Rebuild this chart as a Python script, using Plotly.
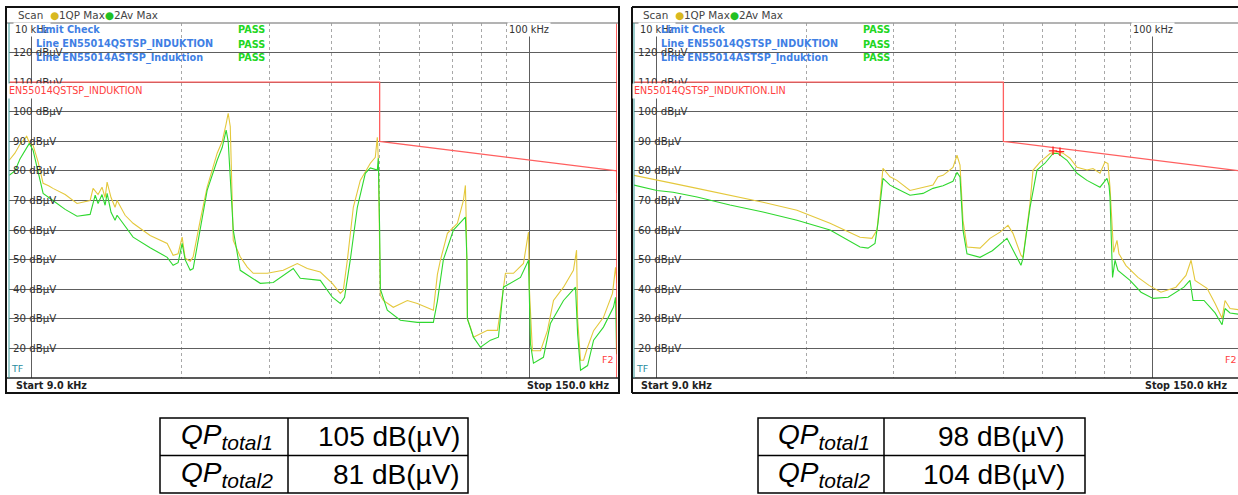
import math
import plotly.graph_objects as go

W, H = 1238, 495

# ---------------- data (kHz, dBµV) ----------------
left_qp = [(9.0, 83.6), (9.24, 86), (9.46, 89), (9.76, 91.7), (9.88, 89.5), (10.05, 88.7), (10.29, 83),
           (10.53, 75.8), (10.8, 75), (11.02, 74.1), (11.66, 72), (12.32, 69), (12.7, 69.5), (13.09, 70),
           (13.27, 74.1), (13.58, 72), (13.83, 74.5), (14.03, 71), (14.16, 76.2), (14.42, 71), (14.69, 67.7),
           (14.83, 70), (15.39, 65), (15.97, 62.3), (17.28, 58.2), (18.70, 55.5), (19.22, 51.5), (19.67, 52),
           (20.04, 57.6), (20.32, 50.5), (20.8, 49.5), (21.09, 51), (21.79, 63.3), (22.50, 74.5), (23.57, 86),
           (24.13, 90), (24.57, 96), (24.80, 99.5), (25.04, 95), (25.39, 56.5), (26.22, 51), (27.09, 47.5),
           (27.85, 45.4), (29.72, 45.4), (32.0, 46.4), (34.15, 48.7), (35.76, 47), (37.99, 45.8), (40.16, 42),
           (41.67, 38.6), (42.25, 39.6), (43.05, 49.8), (44.26, 67.7), (45.71, 76.8), (47.89, 82.6), (49.0, 84.6),
           (49.46, 91.4), (49.69, 84), (50.16, 38), (50.86, 36.2), (53.26, 33.9), (56.84, 36.2), (59.53, 35.2),
           (62.35, 33.9), (64.11, 32.9), (65.32, 45), (66.23, 49.8), (68.42, 58.9), (71.65, 62.3), (73.68, 70),
           (74.36, 75.1), (74.71, 60), (75.05, 30), (76.11, 27.2), (77.17, 23.8), (82.35, 26.1), (86.25, 26.1),
           (87.45, 33), (89.5, 45.4), (92.88, 45.4), (97.29, 48.7), (99.58, 59.3), (100.0, 40), (101.4, 19.2),
           (105.3, 19.2), (108.7, 26), (111.8, 36.2), (117.1, 40.7), (122.6, 46.4), (124.4, 53.2), (125.0, 30),
           (126.7, 16), (128.5, 16), (130.9, 20.4), (134.6, 26), (140.9, 30.5), (146.9, 38.6), (149.0, 47.4),
           (150.0, 42)]

left_av = [(9.0, 78.5), (9.24, 80), (9.46, 84), (9.88, 89.3), (10.05, 87), (10.29, 80), (10.53, 72.4),
           (11.02, 70), (11.66, 67), (12.32, 64.7), (13.09, 65.3), (13.4, 71.8), (13.58, 69), (13.83, 72),
           (14.03, 68.4), (14.16, 72.4), (14.42, 66), (14.69, 63.3), (14.83, 65), (15.97, 57.6), (17.28, 54),
           (18.70, 50.8), (19.22, 48.1), (19.67, 49), (20.04, 55.5), (20.32, 50), (20.80, 46.4), (21.09, 47),
           (21.79, 61), (22.50, 73.4), (23.57, 83.6), (24.13, 88), (24.57, 93.8), (24.8, 90), (25.39, 60),
           (25.86, 52), (26.22, 46.4), (28.77, 42), (30.56, 42.3), (33.52, 47), (34.62, 43.7), (37.99, 43),
           (40.16, 37.3), (41.67, 35.2), (42.5, 37.3), (43.65, 50), (45.09, 67.7), (46.79, 79.2), (47.89, 81),
           (49.46, 80.3), (49.69, 84.3), (50.0, 60), (50.16, 40), (51.8, 32.9), (55.02, 29.5), (59.53, 28.8),
           (64.11, 28.8), (65.32, 36), (67.15, 50), (70.34, 60), (73.34, 63.3), (74.36, 64.4), (74.9, 50),
           (75.05, 30), (77.17, 23.8), (79.72, 20.4), (83.50, 22.8), (86.65, 23.8), (88.68, 40.7), (91.59, 42),
           (95.95, 44), (99.58, 49.8), (100.0, 35), (100.5, 21.5), (101.9, 15), (106.7, 17), (110.2, 28.4),
           (117.1, 36.2), (123.8, 40.7), (125.0, 25), (126.7, 12.6), (130.9, 14.2), (134.6, 22.8), (140.9, 27.2),
           (147.6, 34), (149.0, 37.3), (149.7, 18)]

right_qp = [(9.0, 78.5), (10.01, 76.8), (10.79, 75.8), (12.06, 74.1), (14.05, 71.8), (16.38, 69.4),
            (19.18, 66.7), (22.36, 62.3), (25.70, 57.6), (27.17, 57.2), (27.81, 60), (28.59, 80.9), (29.54, 78),
            (30.51, 76.8), (32.41, 73.4), (34.43, 74.5), (36.06, 75.2), (36.91, 78), (37.78, 78.5), (39.57, 81.2),
            (40.31, 85.3), (40.88, 82), (41.45, 63.3), (42.23, 54.3), (44.86, 53.9), (46.98, 57.2), (49.22, 59.3),
            (51.08, 61.6), (52.28, 58.9), (54.25, 51.5), (54.77, 50.8), (56.58, 69), (57.37, 80.2), (59.26, 83),
            (62.08, 85.9), (64.13, 86.6), (65.94, 86), (68.11, 84.3), (70.37, 81.2), (73.71, 80.3), (75.79, 80.8),
            (78.30, 79.2), (80.14, 83), (81.25, 82.5), (82.02, 74.5), (83.4, 52.5), (84.73, 56.5), (85.5, 52),
            (88.34, 48), (93.40, 44), (98.30, 41.3), (103.9, 39), (111.4, 40.7), (116.7, 44.7), (119.5, 49.8),
            (121.7, 43), (128.7, 40.3), (133.6, 35.2), (138.0, 30.2), (139.9, 36.2), (143.2, 33.5), (150.0, 33)]

right_av = [(9.0, 75.2), (10.01, 73.4), (10.79, 72.8), (12.06, 71.2), (14.05, 68.5), (16.38, 66.1),
            (19.18, 63.3), (22.36, 60), (25.70, 54.3), (26.67, 53.9), (27.55, 55.5), (27.93, 62.3), (28.59, 77.5),
            (29.54, 75.2), (30.51, 74), (32.41, 71.8), (34.43, 72.4), (36.06, 74.1), (37.78, 75), (39.57, 76.5),
            (40.31, 79.5), (40.88, 78), (41.45, 60), (42.23, 52), (44.86, 50.8), (47.5, 53), (50.84, 57.2),
            (52.28, 53.2), (53.51, 50), (54.25, 48.1), (54.77, 50.5), (56.58, 67.7), (58.44, 80.3), (60.65, 82.6),
            (62.96, 85.9), (64.42, 85.9), (67.18, 83.6), (70.37, 79.2), (73.71, 76.8), (78.30, 74.5),
            (80.88, 77.5), (81.65, 75), (82.02, 71.2), (83.0, 44), (83.95, 49.8), (85.12, 46.4), (90.0, 43),
            (94.72, 39), (100.15, 36.9), (107.4, 37.3), (115.6, 40.7), (118.9, 43), (120.6, 36.2), (126.9, 36.2),
            (133.6, 32), (138.0, 28), (139.9, 33.5), (143.2, 32), (150.0, 31.5)]

limit_f = [9, 50, 50, 150]
limit_db = [110, 110, 90, 80]
limit_tail_f = [150, 150]
limit_tail_db = [80, 72.5]
f2_f = [150, 150]
f2_db = [10, 130]
violations = [(62.96, 86.8), (65.03, 86.5)]

y_ticks = [120, 110, 100, 90, 80, 70, 60, 50, 40, 30, 20]
x_major = [10, 100]
x_minor = [20, 30, 40, 50, 60, 70, 80, 90]

limit_names = ["EN55014QSTSP_INDUKTION", "EN55014QSTSP_INDUKTION.LIN"]
check_rows = ["Limit Check", "Line EN55014QSTSP_INDUKTION", "Line EN55014ASTSP_Induktion"]
check_state = ["PASS", "PASS", "PASS"]

table_labels = ["<i>QP<sub><span style='font-size:21px'>total1</span></sub></i>",
                "<i>QP<sub><span style='font-size:21px'>total2</span></sub></i>"]
table_left_values = ["105 dB(µV)", "81 dB(µV)"]
table_right_values = ["98 dB(µV)", "104 dB(µV)"]

# ---------------- styling ----------------
QP_C = "#e4c83c"
AV_C = "#2fd82f"
LIM_C = "#ff5f5f"
GRID_C = "#5e5e5e"
DOT_C = "#a8a8a8"
TXT_C = "#333333"
BLUE = "#3f7fe4"
PASSG = "#22d622"
SCREEN_FONT = "DejaVu Sans"
TABLE_FONT = "Liberation Sans"
LABEL_SIZE = 10.2


def X(px):
    return px / W


def Y(py):
    return 1 - py / H


fig = go.Figure()

panels = [
    dict(xa="x", ya="y", qp=left_qp, av=left_av, dx=0, tail=True, f2=True, viol=False),
    dict(xa="x2", ya="y2", qp=right_qp, av=right_av, dx=625, tail=False, f2=False, viol=True),
]

for p in panels:
    fig.add_trace(go.Scatter(x=limit_f, y=limit_db, mode="lines", line=dict(color=LIM_C, width=1.3),
                             xaxis=p["xa"], yaxis=p["ya"], hoverinfo="skip"))
    if p["tail"]:
        fig.add_trace(go.Scatter(x=limit_tail_f, y=limit_tail_db, mode="lines", line=dict(color=LIM_C, width=1.3),
                                 xaxis=p["xa"], yaxis=p["ya"], hoverinfo="skip"))
    fig.add_trace(go.Scatter(x=[a for a, b in p["qp"]], y=[b for a, b in p["qp"]], mode="lines",
                             line=dict(color=QP_C, width=1.1), xaxis=p["xa"], yaxis=p["ya"]))
    fig.add_trace(go.Scatter(x=[a for a, b in p["av"]], y=[b for a, b in p["av"]], mode="lines",
                             line=dict(color=AV_C, width=1.1), xaxis=p["xa"], yaxis=p["ya"]))
    if p["f2"]:
        fig.add_trace(go.Scatter(x=f2_f, y=f2_db, mode="lines", line=dict(color="#ff3030", width=1.5),
                                 xaxis=p["xa"], yaxis=p["ya"], hoverinfo="skip"))
    if p["viol"]:
        fig.add_trace(go.Scatter(x=[a for a, b in violations], y=[b for a, b in violations], mode="markers",
                                 marker=dict(symbol="cross-thin", size=6, line=dict(color="#ff2020", width=1.3)),
                                 xaxis=p["xa"], yaxis=p["ya"]))

lx0 = math.log10(9)
common_x = dict(type="log", tickmode="array", tickvals=x_major, showticklabels=False, ticks="",
                showgrid=True, gridcolor=GRID_C, gridwidth=1.2, zeroline=False, showline=False,
                minor=dict(tickvals=x_minor, showgrid=True, gridcolor=DOT_C, griddash="dot", gridwidth=1, ticks=""))
common_y = dict(range=[10, 130], tickmode="array", tickvals=y_ticks, showticklabels=False, ticks="",
                showgrid=True, gridcolor=GRID_C, gridwidth=1, zeroline=False, showline=False,
                domain=[Y(378), Y(23)])

fig.update_layout(
    width=W, height=H, margin=dict(l=0, r=0, t=0, b=0), showlegend=False,
    paper_bgcolor="white", plot_bgcolor="white",
    xaxis=dict(common_x, domain=[X(9.2), X(617)], range=[lx0, math.log10(150)], anchor="y"),
    yaxis=dict(common_y, anchor="x"),
    xaxis2=dict(common_x, domain=[X(634), 1.0], range=[lx0, lx0 + (W - 634) / 496.0], anchor="y2"),
    yaxis2=dict(common_y, anchor="x2"),
)

shapes = []
annotations = []


def text_w(s, size):
    return len(s) * size * 0.6


for p in panels:
    dx = p["dx"]
    ya = p["ya"]
    # white boxes behind in-plot level labels (cover grid, under traces)
    for v in y_ticks:
        lab = f"{v} dBµV"
        shapes.append(dict(type="rect", xref="paper", yref=ya, x0=X(11 + dx),
                           x1=X(13 + dx + text_w(lab, LABEL_SIZE) - 2),
                           y0=v - 1.7, y1=v + 1.7, fillcolor="white", line=dict(width=0), layer="between"))
        annotations.append(dict(text=lab, xref="paper", yref=ya, x=X(11 + dx), y=v, xanchor="left",
                                yanchor="middle", showarrow=False,
                                font=dict(family=SCREEN_FONT, size=LABEL_SIZE, color=TXT_C)))
    # frequency labels
    for fv in x_major:
        annotations.append(dict(text=f"{fv} kHz", xref=p["xa"], yref="paper", x=math.log10(fv), y=Y(30),
                                xanchor="center", yanchor="middle", showarrow=False, bgcolor="white",
                                borderpad=1, font=dict(family=SCREEN_FONT, size=9.8, color=TXT_C)))
    # limit line name
    annotations.append(dict(text=limit_names[0] if dx == 0 else limit_names[1], xref="paper", yref="paper",
                            x=X(7 + dx), y=Y(82.6), xanchor="left", yanchor="top", showarrow=False,
                            bgcolor="white", borderpad=1, font=dict(family=SCREEN_FONT, size=9.6, color="#ff4040")))
    # limit check block
    for i, (row, st) in enumerate(zip(check_rows, check_state)):
        annotations.append(dict(text=f"<b>{row}</b>", xref="paper", yref="paper", x=X(34 + dx), y=Y(30 + 14 * i),
                                xanchor="left", yanchor="middle", showarrow=False,
                                font=dict(family=SCREEN_FONT, size=9.7, color=BLUE)))
        annotations.append(dict(text=f"<b>{st}</b>", xref="paper", yref="paper", x=X(236 + dx), y=Y(30 + 14 * i),
                                xanchor="left", yanchor="middle", showarrow=False,
                                font=dict(family=SCREEN_FONT, size=9.7, color=PASSG)))
    # header
    annotations.append(dict(text="Scan  <span style='color:#d8b820'>●</span>1QP Max"
                                 "<span style='color:#22c022'>●</span>2Av Max",
                            xref="paper", yref="paper", x=X(16 + dx), y=Y(15.5), xanchor="left", yanchor="middle",
                            showarrow=False, font=dict(family=SCREEN_FONT, size=10.4, color="#444444")))
    annotations.append(dict(text="<b>Start 9.0 kHz</b>", xref="paper", yref="paper", x=X(14 + dx), y=Y(385.5),
                            xanchor="left", yanchor="middle", showarrow=False,
                            font=dict(family=SCREEN_FONT, size=9.6, color="#222222")))
    annotations.append(dict(text="TF", xref="paper", yref="paper", x=X(9 + dx), y=Y(368.5),
                            xanchor="left", yanchor="middle", showarrow=False,
                            font=dict(family=SCREEN_FONT, size=9.5, color="#2a8ca0")))

annotations.append(dict(text="<b>Stop 150.0 kHz</b>", xref="paper", yref="paper", x=X(611), y=Y(385.5),
                        xanchor="right", yanchor="middle", showarrow=False,
                        font=dict(family=SCREEN_FONT, size=9.6, color="#222222")))
annotations.append(dict(text="<b>Stop 150.0 kHz</b>", xref="paper", yref="paper", x=X(1229), y=Y(385.5),
                        xanchor="right", yanchor="middle", showarrow=False,
                        font=dict(family=SCREEN_FONT, size=9.6, color="#222222")))
annotations.append(dict(text="F2", xref="paper", yref="paper", x=X(616), y=Y(359), xanchor="right",
                        yanchor="middle", showarrow=False, font=dict(family=SCREEN_FONT, size=9.5, color="#ff4040")))
annotations.append(dict(text="F2", xref="paper", yref="paper", x=X(1239), y=Y(359), xanchor="right",
                        yanchor="middle", showarrow=False, font=dict(family=SCREEN_FONT, size=9.5, color="#ff4040")))


def line(x0, y0, x1, y1, color, width):
    shapes.append(dict(type="line", xref="paper", yref="paper", x0=X(x0), y0=Y(y0), x1=X(x1), y1=Y(y1),
                       line=dict(color=color, width=width), layer="above"))


# panel frames
line(6, 23, 619, 23, "#9a9a9a", 1.5)
line(6, 378, 619, 378, "#222222", 1.5)
line(9, 23, 9, 378, "#3a9a9a", 1)
shapes.append(dict(type="rect", xref="paper", yref="paper", x0=X(6), x1=X(619), y0=Y(393), y1=Y(7),
                   line=dict(color="#111111", width=2), layer="above"))
line(632, 23, 1238, 23, "#9a9a9a", 1.5)
line(632, 378, 1238, 378, "#222222", 1.5)
line(634, 23, 634, 378, "#3a9a9a", 1)
line(632, 7, 1238, 7, "#111111", 2)
line(632, 7, 632, 393, "#111111", 2)
line(632, 393, 1238, 393, "#111111", 2)

# tables
tables = [dict(x=[160, 288, 468], vals=table_left_values, pad=6),
          dict(x=[758, 884, 1085], vals=table_right_values, pad=18)]
ty = [418, 455.5, 493]
for t in tables:
    xs = t["x"]
    shapes.append(dict(type="rect", xref="paper", yref="paper", x0=X(xs[0]), x1=X(xs[2]), y0=Y(ty[2]),
                       y1=Y(ty[0]), line=dict(color="black", width=1.5), layer="above"))
    line(xs[0], ty[1], xs[2], ty[1], "black", 1.5)
    line(xs[1], ty[0], xs[1], ty[2], "black", 1.5)
    for r in range(2):
        yc = (ty[r] + ty[r + 1]) / 2
        annotations.append(dict(text=table_labels[r], xref="paper", yref="paper", x=X((xs[0] + xs[1]) / 2 + 3),
                                y=Y(yc), xanchor="center", yanchor="middle", showarrow=False,
                                font=dict(family=TABLE_FONT, size=28, color="black")))
        annotations.append(dict(text=t["vals"][r], xref="paper", yref="paper", x=X(xs[2] - t["pad"]), y=Y(yc),
                                xanchor="right", yanchor="middle", showarrow=False,
                                font=dict(family=TABLE_FONT, size=28, color="black")))

fig.update_layout(shapes=shapes, annotations=annotations)
fig.write_html("out.html")
